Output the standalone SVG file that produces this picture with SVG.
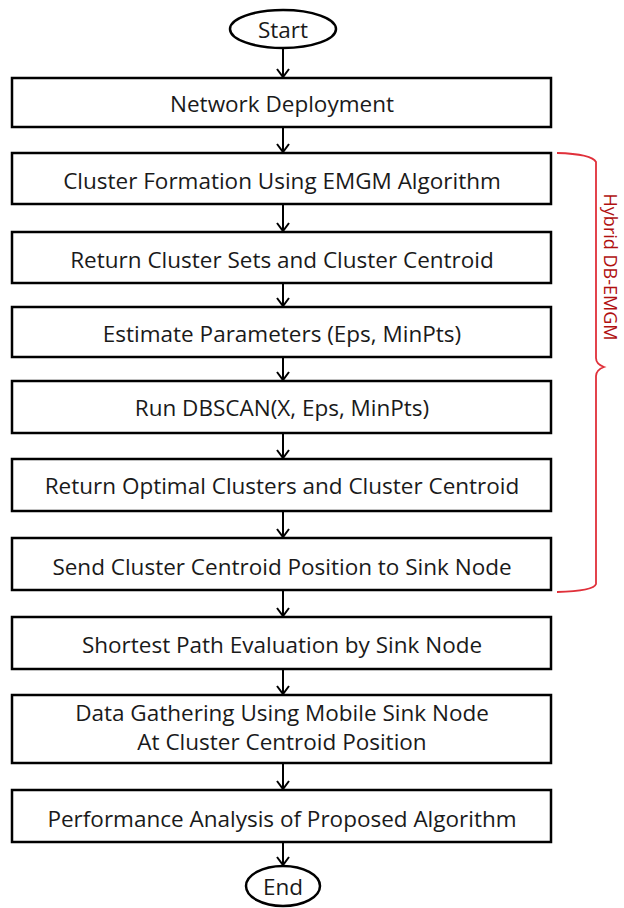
<svg xmlns="http://www.w3.org/2000/svg" width="624" height="908" viewBox="0 0 624 908">
<defs>
<style>
.box{fill:#fff;stroke:#000;stroke-width:2.5}
.t{font-family:"Open Sans","Noto Sans","Liberation Sans",sans-serif;font-size:22.5px;fill:#1a1a1a;text-anchor:middle;dominant-baseline:central}
.c{stroke:#000;stroke-width:2;fill:none}
.red{stroke:#e0303a;stroke-width:1.8;fill:none}
</style>
</defs>
<rect width="624" height="908" fill="#fff"/>
<g id="start"><ellipse cx="283" cy="29" rx="53" ry="19" class="box"/><text x="283" y="29" class="t">Start</text></g>
<g id="n1"><rect x="12" y="78" width="539" height="49" class="box"/><text x="282" y="103" class="t">Network Deployment</text></g>
<g id="n2"><rect x="12" y="153" width="539" height="51" class="box"/><text x="282" y="180" class="t">Cluster Formation Using EMGM Algorithm</text></g>
<g id="n3"><rect x="12" y="232" width="539" height="51" class="box"/><text x="282" y="259" class="t">Return Cluster Sets and Cluster Centroid</text></g>
<g id="n4"><rect x="12" y="307" width="539" height="50" class="box"/><text x="282" y="333" class="t">Estimate Parameters (Eps, MinPts)</text></g>
<g id="n5"><rect x="12" y="381" width="539" height="52" class="box"/><text x="282" y="407" class="t">Run DBSCAN(X, Eps, MinPts)</text></g>
<g id="n6"><rect x="12" y="459" width="539" height="52" class="box"/><text x="282" y="485" class="t">Return Optimal Clusters and Cluster Centroid</text></g>
<g id="n7"><rect x="12" y="538" width="539" height="52" class="box"/><text x="282" y="566" class="t">Send Cluster Centroid Position to Sink Node</text></g>
<g id="n8"><rect x="12" y="617" width="539" height="52" class="box"/><text x="282" y="644" class="t">Shortest Path Evaluation by Sink Node</text></g>
<g id="n9"><rect x="12" y="695" width="539" height="68" class="box"/><text x="282" y="712" class="t">Data Gathering Using Mobile Sink Node</text><text x="282" y="741" class="t">At Cluster Centroid Position</text></g>
<g id="n10"><rect x="12" y="790" width="539" height="52" class="box"/><text x="282" y="818" class="t">Performance Analysis of Proposed Algorithm</text></g>
<g id="end"><ellipse cx="283" cy="886" rx="37" ry="20" class="box"/><text x="283" y="886" class="t">End</text></g>
<g id="connectors">
<path class="c" d="M283 48V77M277 69L283 77L289 69"/>
<path class="c" d="M283 127V152M277 144L283 152L289 144"/>
<path class="c" d="M283 204V231M277 223L283 231L289 223"/>
<path class="c" d="M283 283V306M277 298L283 306L289 298"/>
<path class="c" d="M283 357V380M277 372L283 380L289 372"/>
<path class="c" d="M283 433V458M277 450L283 458L289 450"/>
<path class="c" d="M283 511V537M277 529L283 537L289 529"/>
<path class="c" d="M283 590V616M277 608L283 616L289 608"/>
<path class="c" d="M283 669V694M277 686L283 694L289 686"/>
<path class="c" d="M283 763V789M277 781L283 789L289 781"/>
<path class="c" d="M283 842V865M277 857L283 865L289 857"/>
</g>
<g id="brace">
<path class="red" d="M557 153Q592 154 596 162V358Q596 364 604 367Q596 370 596 376V584Q594 591 557 592"/>
<text transform="translate(611 267) rotate(90)" font-family="'Open Sans','Noto Sans',sans-serif" font-size="18" fill="#b01010" text-anchor="middle" dominant-baseline="central">Hybrid DB-EMGM</text>
</g>
</svg>
